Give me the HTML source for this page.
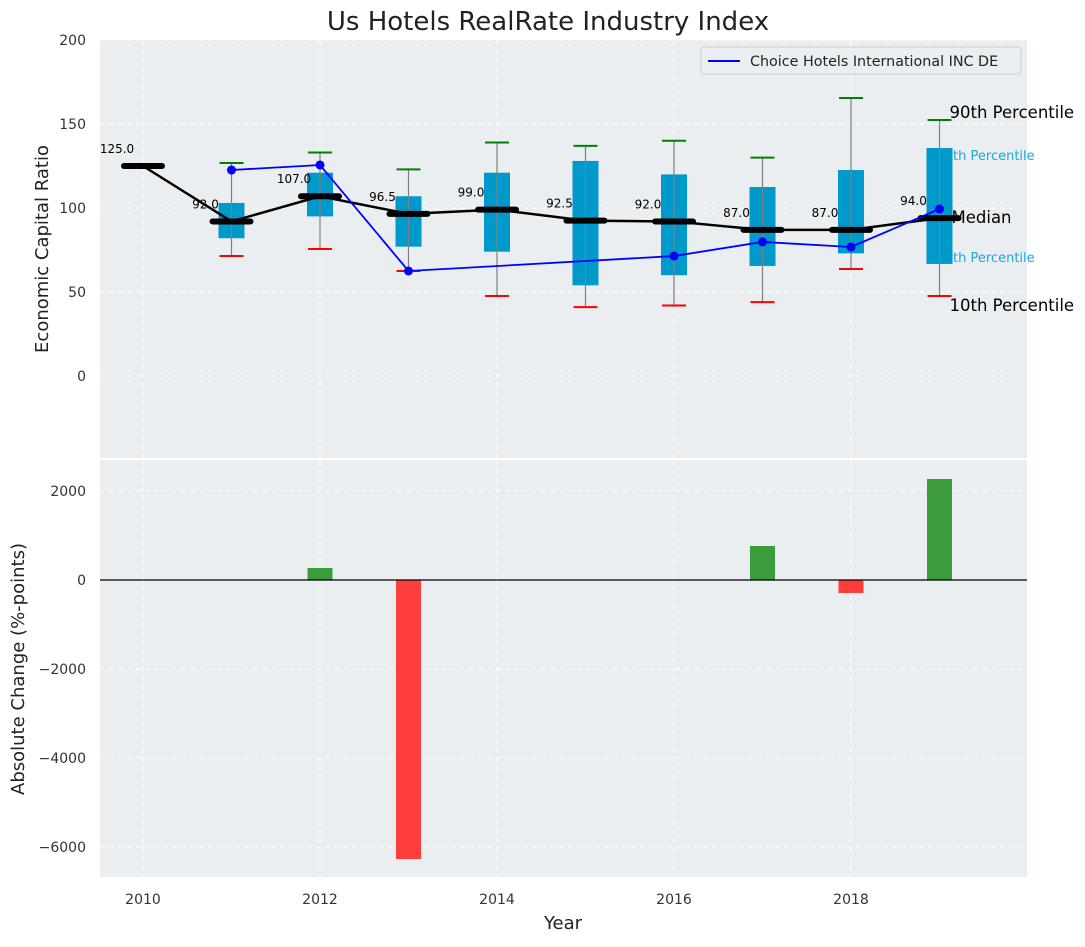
<!DOCTYPE html>
<html><head><meta charset="utf-8"><style>
body{margin:0;background:#fff;}
svg{font-family:"DejaVu Sans","Liberation Sans",sans-serif;}
</style></head><body>
<svg id="chart" width="1085" height="942" xmlns="http://www.w3.org/2000/svg">
<text x="548" y="30" font-size="26" text-anchor="middle" fill="#222">Us Hotels RealRate Industry Index</text>
<rect x="100" y="40" width="927" height="418" fill="#eaeef0"/>
<rect x="100" y="460" width="927" height="417" fill="#eaeef0"/>
<g id="grid"></g>
<g id="top"></g>
<g id="bottom"></g>
<g id="axes"></g>
<text x="48" y="249" font-size="18" fill="#222" text-anchor="middle" transform="rotate(-90 48 249)">Economic Capital Ratio</text>
<text x="24" y="669" font-size="18" fill="#222" text-anchor="middle" transform="rotate(-90 24 669)">Absolute Change (%-points)</text>
<text x="563" y="929" font-size="18" fill="#222" text-anchor="middle">Year</text>
<g>
<rect x="701" y="47" width="320" height="27" fill="#eaeef0" stroke="#ccc" rx="3"/>
<line x1="708" y1="61" x2="740" y2="61" stroke="#0000ff" stroke-width="2"/>
<text x="750" y="66" font-size="14.3" fill="#222">Choice Hotels International INC DE</text>
</g>
</svg>
<script>
const years=[2010,2011,2012,2013,2014,2015,2016,2017,2018,2019];
const medians=[125,92,107,96.5,99,92.5,92,87,87,94];
const boxYears=[2011,2012,2013,2014,2015,2016,2017,2018,2019];
const q75=[103,121,107,121,128,120,112.5,122.6,135.7];
const q25=[82,95,77,74,54,60,65.5,73,66.7];
const p90=[126.8,133,123,139,137,140,130,165.5,152.4];
const p10=[71.4,75.6,62.5,47.6,41,42,44,63.7,47.6];
const coYears=[2011,2012,2013,2016,2017,2018,2019];
const coValues=[122.6,125.6,62.5,71.4,79.8,76.8,99.4];
const chgYears=[2012,2013,2017,2018,2019];
const chgValues=[270,-6270,764,-292,2270];
const topTicks=[0,50,100,150,200];
const botTicks=[-6000,-4000,-2000,0,2000];
const xTicks=[2010,2012,2014,2016,2018];

const NS="http://www.w3.org/2000/svg";
const X=y=>143+(y-2010)*88.5;
const YT=v=>376-v*1.68;
const YB=v=>580-v*0.0445;
function mk(p,t,a){const e=document.createElementNS(NS,t);for(const k in a)e.setAttribute(k,a[k]);document.getElementById(p).appendChild(e);return e;}
xTicks.forEach(t=>{
 let l=mk('grid','line',{x1:X(t),x2:X(t),y1:40,y2:458,stroke:'#fff','stroke-dasharray':'5,4','stroke-width':1});
 
 l=mk('grid','line',{x1:X(t),x2:X(t),y1:460,y2:877,stroke:'#fff','stroke-dasharray':'5,4','stroke-width':1});
 
 const tx=mk('axes','text',{x:X(t),y:904,'font-size':14,fill:'#333','text-anchor':'middle'});tx.textContent=t;
 
});
topTicks.forEach(t=>{
 const l=mk('grid','line',{x1:100,x2:1027,y1:YT(t),y2:YT(t),stroke:'#fff','stroke-dasharray':'5,4'});
 
 const tx=mk('axes','text',{x:86,y:YT(t)+5,'font-size':14,fill:'#333','text-anchor':'end'});tx.textContent=t;
 
});
botTicks.forEach(t=>{
 const l=mk('grid','line',{x1:100,x2:1027,y1:YB(t),y2:YB(t),stroke:'#fff','stroke-dasharray':'5,4'});
 
 const tx=mk('axes','text',{x:86,y:YB(t)+5,'font-size':14,fill:'#333','text-anchor':'end'});tx.textContent=t<0?'\u2212'+(-t):t;
 
});
const lx=X(2019)+11;
[['90th Percentile',118,16.5,'#000',lx-1],['75th Percentile',160,13,'#1aa8d6',lx-14],['Median',223,16.5,'#000',lx+1],['25th Percentile',262,13,'#1aa8d6',lx-14],['10th Percentile',311,16.5,'#000',lx-1]].forEach(d=>{
 const tx=mk('top','text',{x:d[4],y:d[1],'font-size':d[2],fill:d[3]});
 tx.textContent=d[0];
 
});
boxYears.forEach((y,i)=>{
 const x=X(y);
 const b=mk('top','rect',{x:x-13,y:YT(q75[i]),width:26,height:YT(q25[i])-YT(q75[i]),fill:'#0099cc'});
 
 const w=mk('top','line',{x1:x,x2:x,y1:YT(p90[i]),y2:YT(p10[i]),stroke:'#808080','stroke-width':1.2});
 
 const c1=mk('top','line',{x1:x-12,x2:x+12,y1:YT(p90[i]),y2:YT(p90[i]),stroke:'#008000','stroke-width':2});
 
 const c2=mk('top','line',{x1:x-12,x2:x+12,y1:YT(p10[i]),y2:YT(p10[i]),stroke:'#ff0000','stroke-width':2});
 
});
const ml=mk('top','polyline',{points:years.map((y,i)=>X(y)+','+YT(medians[i])).join(' '),fill:'none',stroke:'#000','stroke-width':2.5});

years.forEach((y,i)=>{
 const s=mk('top','line',{x1:X(y)-19,x2:X(y)+19,y1:YT(medians[i]),y2:YT(medians[i]),stroke:'#000','stroke-width':6,'stroke-linecap':'round'});
 
 const t=mk('top','text',{x:X(y)-26,y:YT(medians[i])-13,'font-size':12,fill:'#000','text-anchor':'middle'});
 t.textContent=medians[i].toFixed(1);
 
});
const cl=mk('top','polyline',{points:coYears.map((y,i)=>X(y)+','+YT(coValues[i])).join(' '),fill:'none',stroke:'#0000ff','stroke-width':1.8});

coYears.forEach((y,i)=>{
 const p=mk('top','circle',{cx:X(y),cy:YT(coValues[i]),r:4.5,fill:'#0000ff'});
 
});
chgYears.forEach((y,i)=>{
 const v=chgValues[i];
 const r=mk('bottom','rect',{x:X(y)-12.5,y:Math.min(YB(v),YB(0)),width:25,height:Math.abs(YB(v)-YB(0)),fill:v>=0?'#3a9c3a':'#ff3d3d'});
 
});
const z=mk('bottom','line',{x1:100,x2:1027,y1:YB(0),y2:YB(0),stroke:'#000','stroke-width':1.2});

</script>
</body></html>
